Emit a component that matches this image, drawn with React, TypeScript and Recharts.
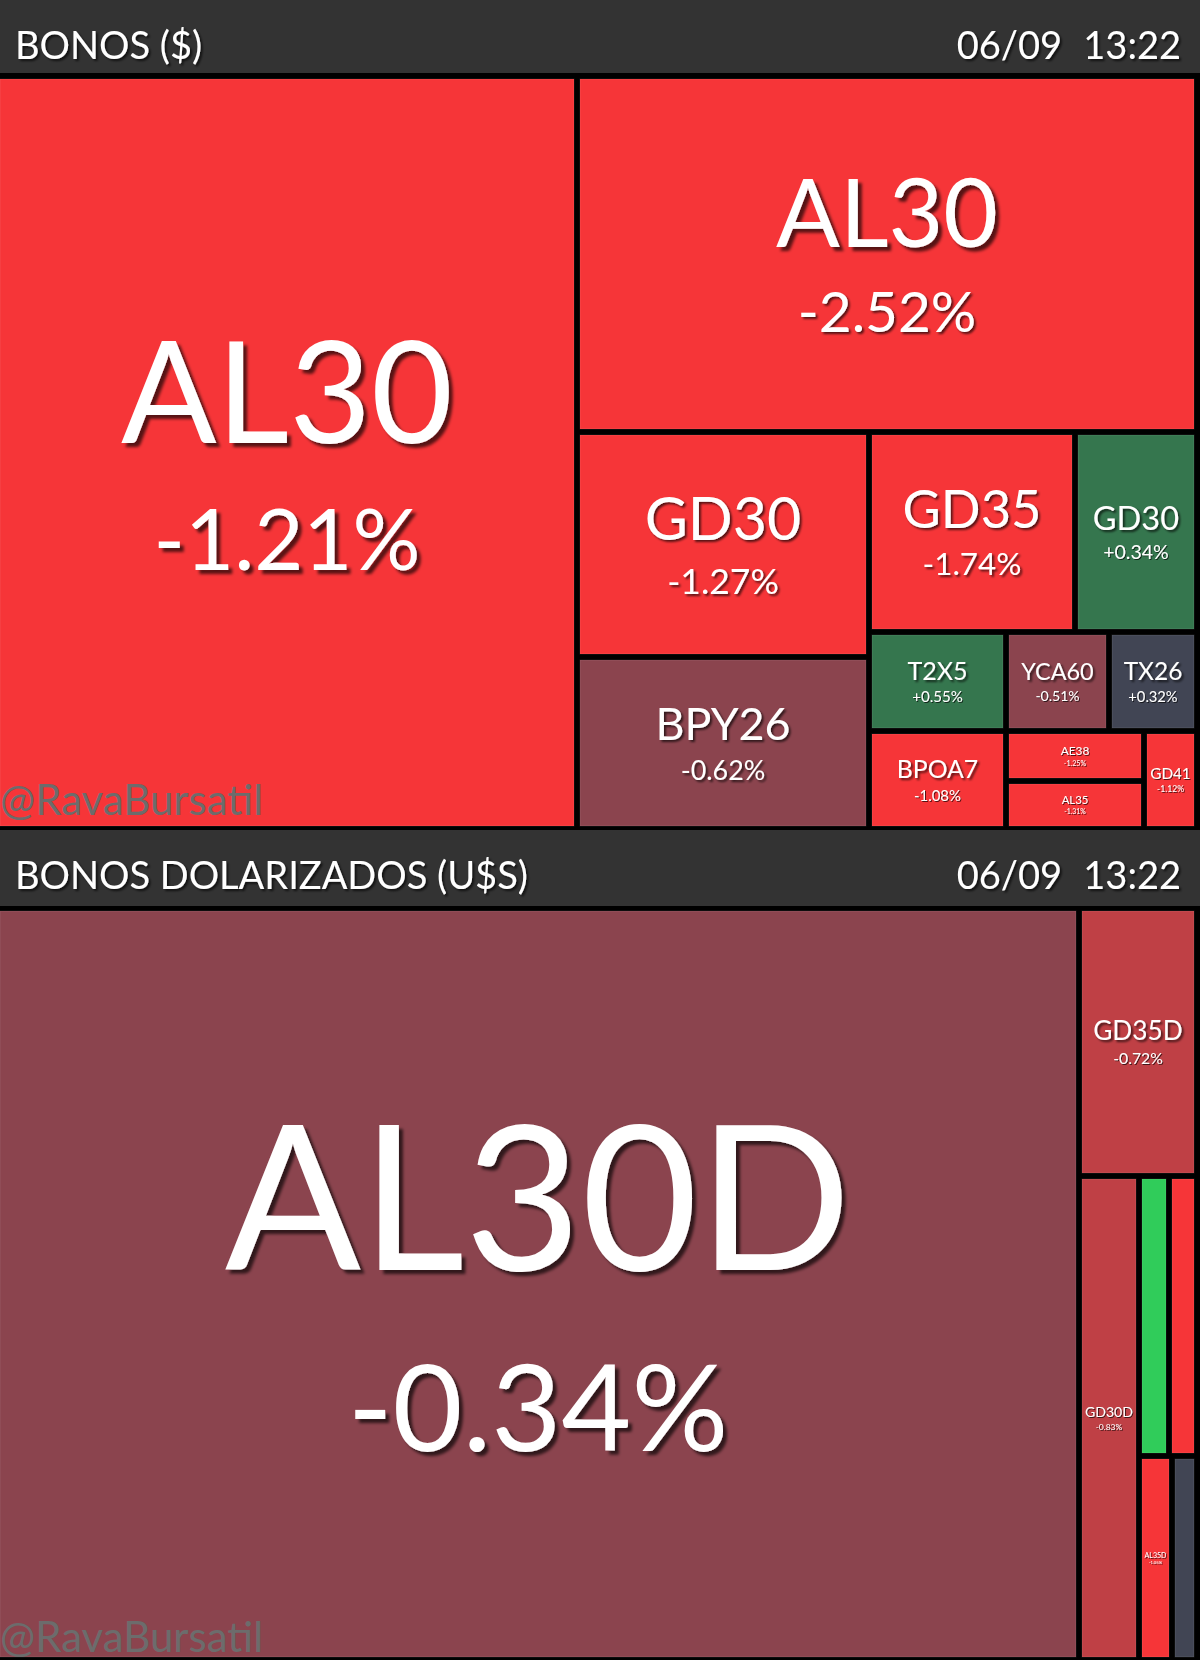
import React from "react";
import { Treemap } from "recharts";

// BONOS ($) — listed in the order the treemap lays them out
const pesoTickers = ["AL30", "AL30", "GD30", "BPY26", "GD35", "GD30", "T2X5", "BPOA7", "YCA60", "TX26", "AE38", "AL35", "GD41"];
const pesoChanges = [-1.21, -2.52, -1.27, -0.62, -1.74, 0.34, 0.55, -1.08, -0.51, 0.32, -1.25, -1.31, -1.12];
const pesoVolume = [437.1, 220.9, 65.6, 50.2, 41.3, 24.2, 13.56, 13.36, 10.15, 8.71, 6.95, 6.6, 5.02];

// BONOS DOLARIZADOS (U$S)
const usdTickers = ["AL30D", "GD35D", "GD30D", "GD46D", "AE38D", "AL35D", "GD41D"];
const usdChanges = [-0.34, -0.72, -0.83, 1.35, -1.2, -1.05, 0.1];
const usdVolume = [813.7, 31.6, 29.3, 8.42, 7.71, 6.63, 5.1];

const STAMP_DATE = "06/09";
const STAMP_TIME = "13:22";
const HANDLE = "@RavaBursatil";

const GAP = 3;
const FONT = "Lato, 'Open Sans', sans-serif";

type TNode = { name: string; value?: number; change?: number; children?: TNode[] };

const pick = (tickers: string[], changes: number[], volume: number[]) => (i: number): TNode => ({
  name: tickers[i],
  value: volume[i],
  change: changes[i],
});
const group = (...children: TNode[]): TNode => ({ name: "", children });
// zero-size lead child: squarify then keeps the rest in one strip (stacked across the short side)
const strip = (...children: TNode[]): TNode => group({ name: "", value: 0 }, ...children);

const peso = pick(pesoTickers, pesoChanges, pesoVolume);
const usd = pick(usdTickers, usdChanges, usdVolume);

const pesoTree = [...pesoTickers.slice(0, 10).map((_, i) => peso(i)), strip(peso(10), peso(11)), peso(12)];
const usdTree = [usd(0), usd(1), group(usd(2), group(group(usd(3), usd(4)), group(usd(5), usd(6))))];

function tileColor(c: number) {
  if (c <= -1) return "#f63538";
  if (c <= -0.66) return "#bf4045";
  if (c <= -0.33) return "#8b444e";
  if (c < 0.33) return "#414554";
  if (c < 0.66) return "#35764e";
  if (c < 1) return "#2f9e4f";
  return "#30cc5a";
}

const shadowFor = (size: number) => (size >= 60 ? "url(#ts-l)" : size >= 22 ? "url(#ts-m)" : "url(#ts-s)");

function Shadowed({ x, y, size, text, anchor = "middle" }: any) {
  return (
    <text x={x} y={y} fontSize={size} fontFamily={FONT} textAnchor={anchor} fill="#fff" filter={shadowFor(size)}>
      {text}
    </text>
  );
}

function Tile(props: any) {
  const { x, y, width, height, children, name, change } = props;
  if ((children && children.length) || typeof change !== "number" || width < 2 || height < 2) return <g />;
  const rx = x + GAP;
  const ry = y + GAP;
  const w = width - 2 * GAP;
  const h = height - 2 * GAP;
  const cx = rx + w / 2;
  const cy = ry + h / 2;
  const pct = `${change > 0 ? "+" : ""}${change.toFixed(2)}%`;
  const perChar = w / name.length;
  const F = Math.min(0.95 * perChar + 5, 1.3 * perChar, 0.27 * h);
  const P = Math.min(0.6 * F, (1.1 * w) / pct.length);
  const nameY = cy + (0.72 * F - 1.5 * P) / 2 + 0.02 * F;
  const pctY = nameY + 1.5 * P;
  const showText = w >= 26 && F >= 7;
  return (
    <g>
      <rect x={rx} y={ry} width={w} height={h} fill={tileColor(change)} stroke="rgba(255,255,255,0.1)" strokeWidth={1} />
      {showText && (
        <>
          <Shadowed x={cx} y={nameY} size={F} text={name} />
          <Shadowed x={cx} y={pctY} size={P} text={pct} />
        </>
      )}
    </g>
  );
}

function Header({ top, height, title }: { top: number; height: number; title: string }) {
  return (
    <g>
      <rect x={0} y={top} width={1200} height={height} fill="#333333" />
      <Shadowed x={15} y={top + 59} size={38} text={title} anchor="start" />
      <Shadowed x={1062} y={top + 59} size={38} text={STAMP_DATE} anchor="end" />
      <Shadowed x={1181} y={top + 59} size={38} text={STAMP_TIME} anchor="end" />
    </g>
  );
}

export default function App() {
  return (
    <div style={{ position: "relative", width: 1200, height: 1660, background: "#000", overflow: "hidden" }}>
      <style>{"body{margin:0;background:#000}"}</style>
      <svg width={0} height={0} style={{ position: "absolute" }}>
        <defs>
          <filter id="ts-l" x="-10%" y="-20%" width="130%" height="150%">
            <feDropShadow dx={4} dy={4} stdDeviation={1.5} floodColor="#000" floodOpacity={0.65} />
          </filter>
          <filter id="ts-m" x="-10%" y="-20%" width="130%" height="150%">
            <feDropShadow dx={2} dy={2} stdDeviation={1} floodColor="#000" floodOpacity={0.65} />
          </filter>
          <filter id="ts-s" x="-10%" y="-20%" width="130%" height="150%">
            <feDropShadow dx={1} dy={1} stdDeviation={0.5} floodColor="#000" floodOpacity={0.65} />
          </filter>
        </defs>
      </svg>
      <div style={{ position: "absolute", left: -GAP, top: 76 }}>
        <Treemap
          width={1200}
          height={753}
          data={pesoTree}
          dataKey="value"
          aspectRatio={1.1}
          isAnimationActive={false}
          content={<Tile />}
        />
      </div>
      <div style={{ position: "absolute", left: -GAP, top: 908 }}>
        <Treemap
          width={1200}
          height={752}
          data={usdTree}
          dataKey="value"
          aspectRatio={5.7}
          isAnimationActive={false}
          content={<Tile />}
        />
      </div>
      <svg width={1200} height={1660} style={{ position: "absolute", left: 0, top: 0, pointerEvents: "none" }}>
        <Header top={0} height={73} title="BONOS ($)" />
        <Header top={830} height={76} title="BONOS DOLARIZADOS (U$S)" />
        <text x={0} y={815} fontSize={42} fontFamily={FONT} fill="#6c6c6c">
          {HANDLE}
        </text>
        <text x={0} y={1652} fontSize={42} fontFamily={FONT} fill="#6c6c6c">
          {HANDLE}
        </text>
      </svg>
    </div>
  );
}
